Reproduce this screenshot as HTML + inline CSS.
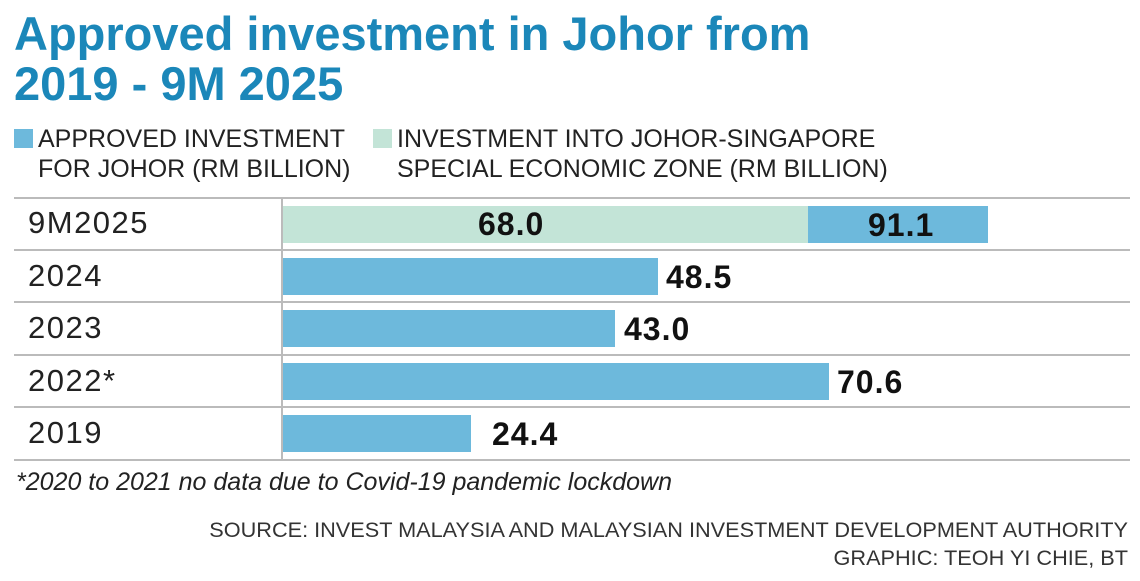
<!DOCTYPE html>
<html><head><style>
body{margin:0;width:1140px;height:581px;background:#fff;font-family:"Liberation Sans",sans-serif;position:relative;overflow:hidden;color:#222}
.a{position:absolute;white-space:nowrap}
.t{left:14px;font-size:47px;font-weight:bold;color:#1b87b9;letter-spacing:0;line-height:48px}
.lg{font-size:25px;line-height:30px;color:#222}
.h{position:absolute;left:14px;width:1116px;height:2px;background:#bbb}
.y{left:28px;font-size:31px;letter-spacing:1.5px;color:#222}
.b{position:absolute;background:#6db9dc}
.v{font-size:32px;font-weight:bold;color:#111;letter-spacing:1px}
</style></head><body>
<div class="a t" style="top:10px">Approved investment in Johor from</div>
<div class="a t" style="top:60px">2019 - 9M 2025</div>
<div class="a" style="left:14px;top:129px;width:19px;height:19px;background:#6db9dc"></div>
<div class="a lg" style="left:38px;top:124px">APPROVED INVESTMENT<br>FOR JOHOR (RM BILLION)</div>
<div class="a" style="left:373px;top:129px;width:19px;height:19px;background:#c3e4d7"></div>
<div class="a lg" style="left:397px;top:124px">INVESTMENT INTO JOHOR-SINGAPORE<br>SPECIAL ECONOMIC ZONE (RM BILLION)</div>
<div class="h" style="top:197px"></div>
<div class="h" style="top:249px"></div>
<div class="h" style="top:301px"></div>
<div class="h" style="top:354px"></div>
<div class="h" style="top:406px"></div>
<div class="h" style="top:459px"></div>
<div class="a" style="left:281px;top:197px;width:2px;height:264px;background:#bbb"></div>
<div class="a y" style="top:205px">9M2025</div>
<div class="a y" style="top:258px">2024</div>
<div class="a y" style="top:310px">2023</div>
<div class="a y" style="top:363px">2022*</div>
<div class="a y" style="top:415px">2019</div>
<div class="b" style="left:283px;top:206px;width:525px;height:37px;background:#c3e4d7"></div>
<div class="b" style="left:808px;top:206px;width:180px;height:37px"></div>
<div class="b" style="left:283px;top:258px;width:375px;height:37px"></div>
<div class="b" style="left:283px;top:310px;width:332px;height:37px"></div>
<div class="b" style="left:283px;top:363px;width:546px;height:37px"></div>
<div class="b" style="left:283px;top:415px;width:188px;height:37px"></div>
<div class="a v" style="left:478px;top:206px">68.0</div>
<div class="a v" style="left:868px;top:207px">91.1</div>
<div class="a v" style="left:666px;top:259px">48.5</div>
<div class="a v" style="left:624px;top:311px">43.0</div>
<div class="a v" style="left:837px;top:364px">70.6</div>
<div class="a v" style="left:492px;top:416px">24.4</div>
<div class="a" style="left:16px;top:468px;font-size:25px;font-style:italic;color:#222">*2020 to 2021 no data due to Covid-19 pandemic lockdown</div>
<div class="a" style="right:12px;top:516px;font-size:21.7px;color:#333;text-align:right;line-height:28px">SOURCE: INVEST MALAYSIA AND MALAYSIAN INVESTMENT DEVELOPMENT AUTHORITY<br>GRAPHIC: TEOH YI CHIE, BT</div>
</body></html>
